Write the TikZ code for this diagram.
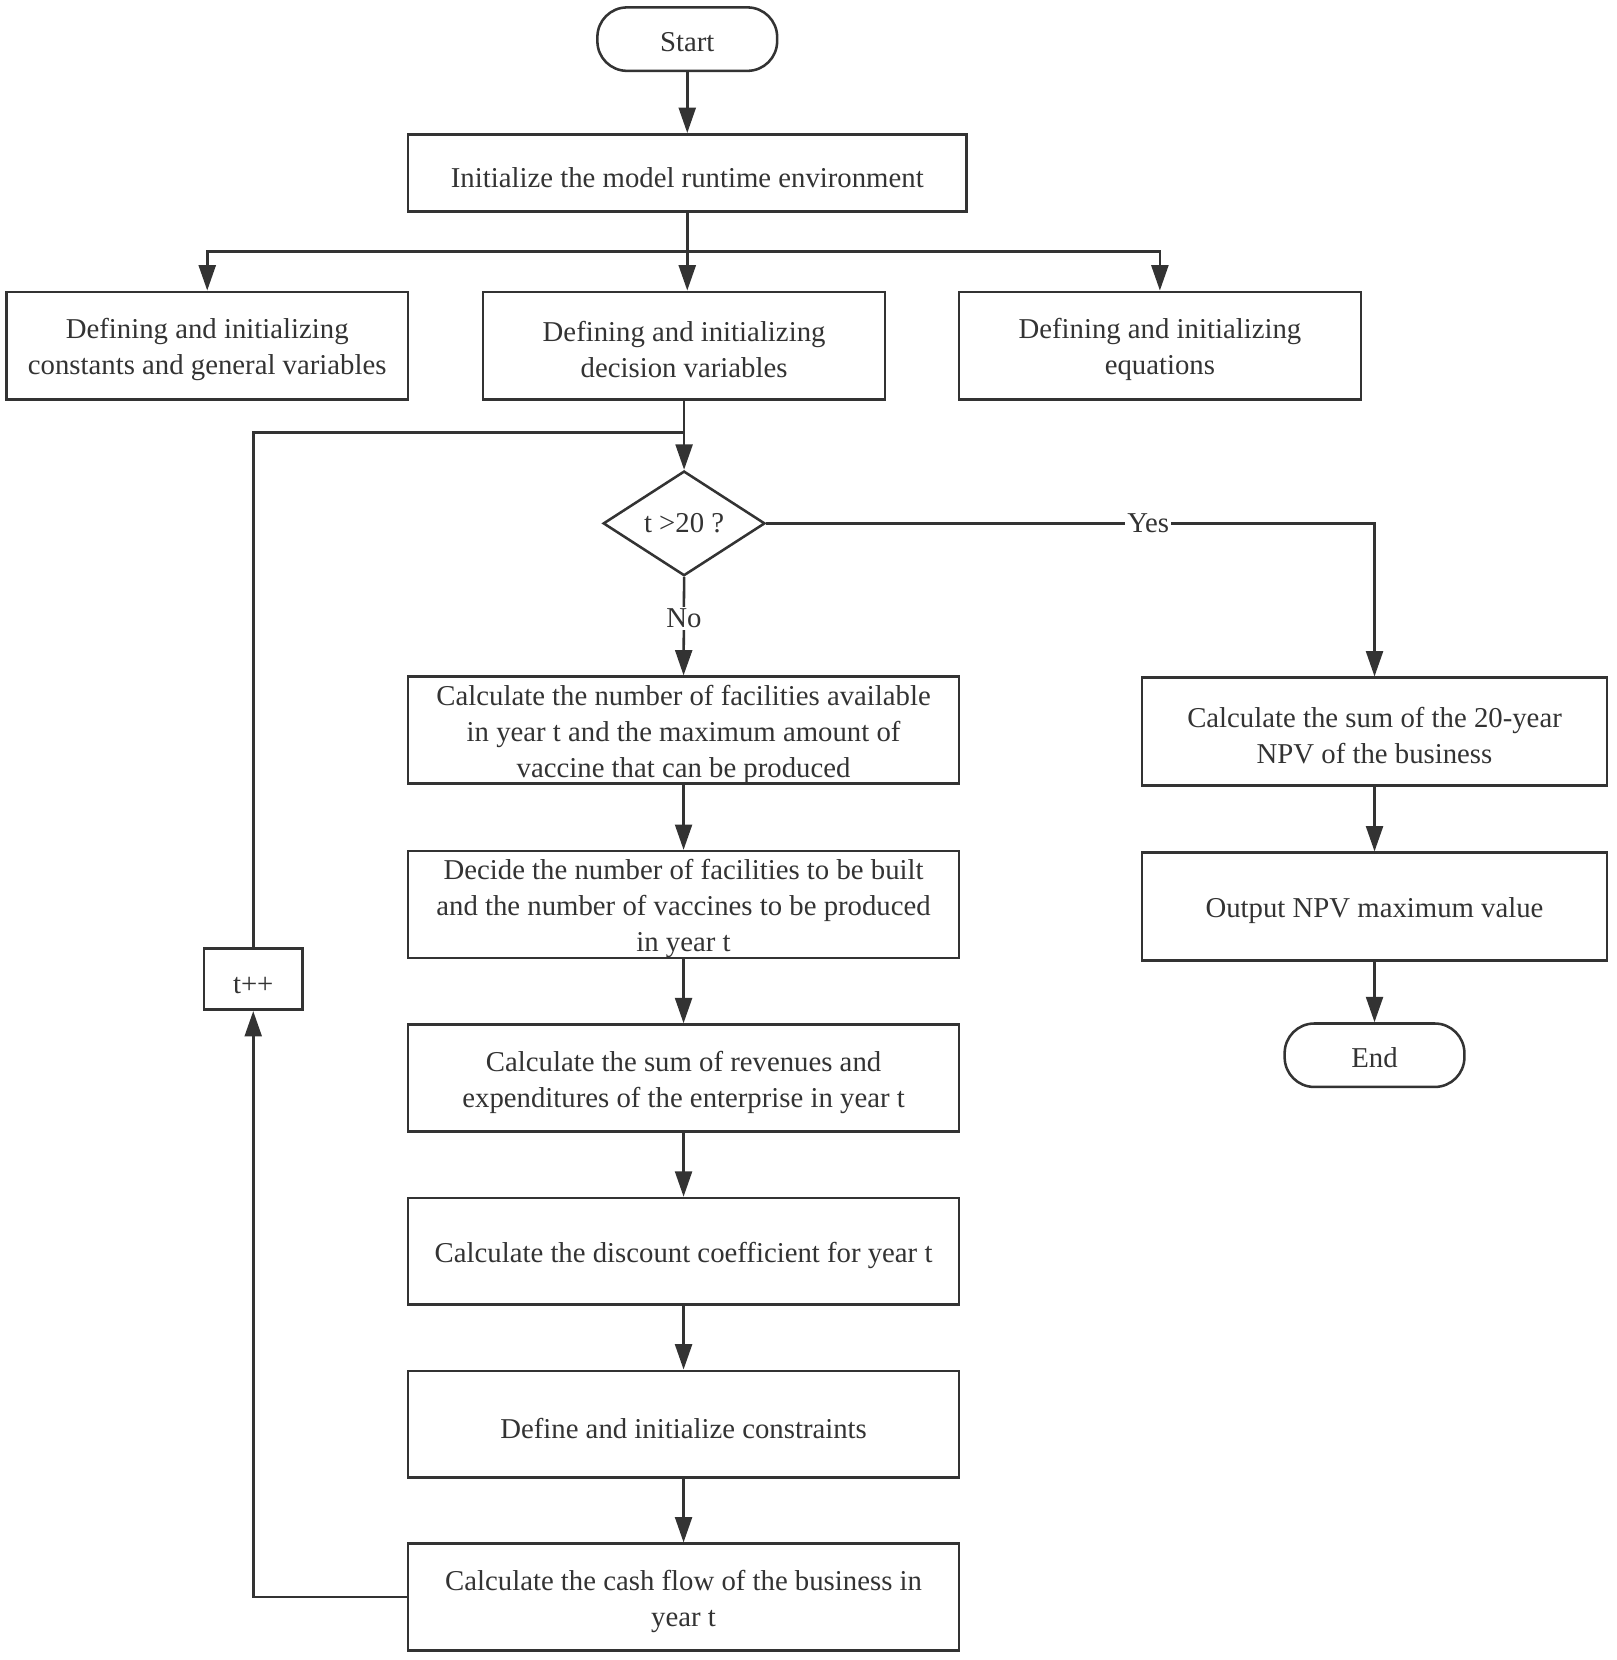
\documentclass[tikz,border=0pt]{standalone}
\usepackage{fontspec}
\setmainfont{Liberation Serif}
\usetikzlibrary{shapes.geometric,arrows.meta}
\definecolor{ink}{HTML}{333333}
\newcommand\hs{\rule{0pt}{13.5pt}}
\begin{document}
\begin{tikzpicture}[x=0.5pt,y=-0.5pt,
  every node/.style={font=\fontsize{13.6}{17}\selectfont, text=ink, align=center, inner sep=0pt},
  lower/.style={execute at begin node={\hs}},
  proc/.style={draw=ink, line width=1.2pt, rectangle, lower},
  mainbox/.style={proc, minimum width=260.5pt, minimum height=50.5pt},
  topbox/.style={proc, minimum width=190pt, minimum height=51pt},
  rbox/.style={proc, minimum width=220pt, minimum height=51pt},
  term/.style={draw=ink, line width=1.2pt, rectangle, rounded corners=14pt, minimum width=85pt, minimum height=30pt, execute at begin node={\rule{0pt}{12pt}}},
  decision/.style={draw=ink, line width=1.2pt, diamond, aspect=1.55, minimum width=76.5pt, minimum height=49.5pt},
  conn/.style={draw=ink, line width=1.2pt},
  arr/.style={conn, -{Triangle[length=12pt,width=8pt]}},
  lbl/.style={fill=white, inner sep=1pt}
]
\useasboundingbox (0,0) rectangle (1529.3,1570);
\node[term] (start) at (650,37) {Start};
\node[proc, minimum width=264pt, minimum height=36.5pt] (init) at (650,163.5) {Initialize the model runtime environment};
\node[topbox] (A) at (196,327) {\hs Defining and initializing\\constants and general variables};
\node[topbox] (B) at (647,327) {\hs Defining and initializing\\decision variables};
\node[topbox] (C) at (1097,327) {\hs Defining and initializing\\equations};
\node[decision] (dia) at (647,495) {t >20 ?};
\node[mainbox] (b1) at (646.5,690.5) {\hs Calculate the number of facilities available\\in year t and the maximum amount of\\vaccine that can be produced};
\node[mainbox] (b2) at (646.5,855.5) {\hs Decide the number of facilities to be built\\and the number of vaccines to be produced\\in year t};
\node[mainbox] (b3) at (646.5,1019.5) {\hs Calculate the sum of revenues and\\expenditures of the enterprise in year t};
\node[mainbox] (b4) at (646.5,1183.5) {Calculate the discount coefficient for year t};
\node[mainbox] (b5) at (646.5,1347) {Define and initialize constraints};
\node[mainbox] (b6) at (646.5,1510.5) {\hs Calculate the cash flow of the business in\\year t};
\node[rbox] (r1) at (1300,692) {\hs Calculate the sum of the 20-year\\NPV of the business};
\node[rbox] (r2) at (1300,857.5) {Output NPV maximum value};
\node[term] (end) at (1300,998) {End};
\node[proc, minimum width=46.5pt, minimum height=29pt] (tpp) at (239.5,926) {t++};
\coordinate (br) at (650,238);
\coordinate (jn) at (647,409);
\draw[arr] (start) -- (init);
\draw[conn] (init.south) -- (br);
\draw[arr] (br) -| (A.north);
\draw[arr] (br) -| (C.north);
\draw[arr] (br) -- (br |- B.north);
\draw[arr] (B.south) -- (dia.north);
\draw[conn] (tpp.north) |- (jn);
\draw[arr] (dia.east) -| node[lbl, pos=0.314] {Yes} (r1.north);
\draw[arr] (dia.south) -- node[lbl, pos=0.42] {No} (b1.north);
\draw[arr] (b1) -- (b2);
\draw[arr] (b2) -- (b3);
\draw[arr] (b3) -- (b4);
\draw[arr] (b4) -- (b5);
\draw[arr] (b5) -- (b6);
\draw[arr] (b6.west) -| (tpp.south);
\draw[arr] (r1) -- (r2);
\draw[arr] (r2) -- (end);
\end{tikzpicture}
\end{document}
